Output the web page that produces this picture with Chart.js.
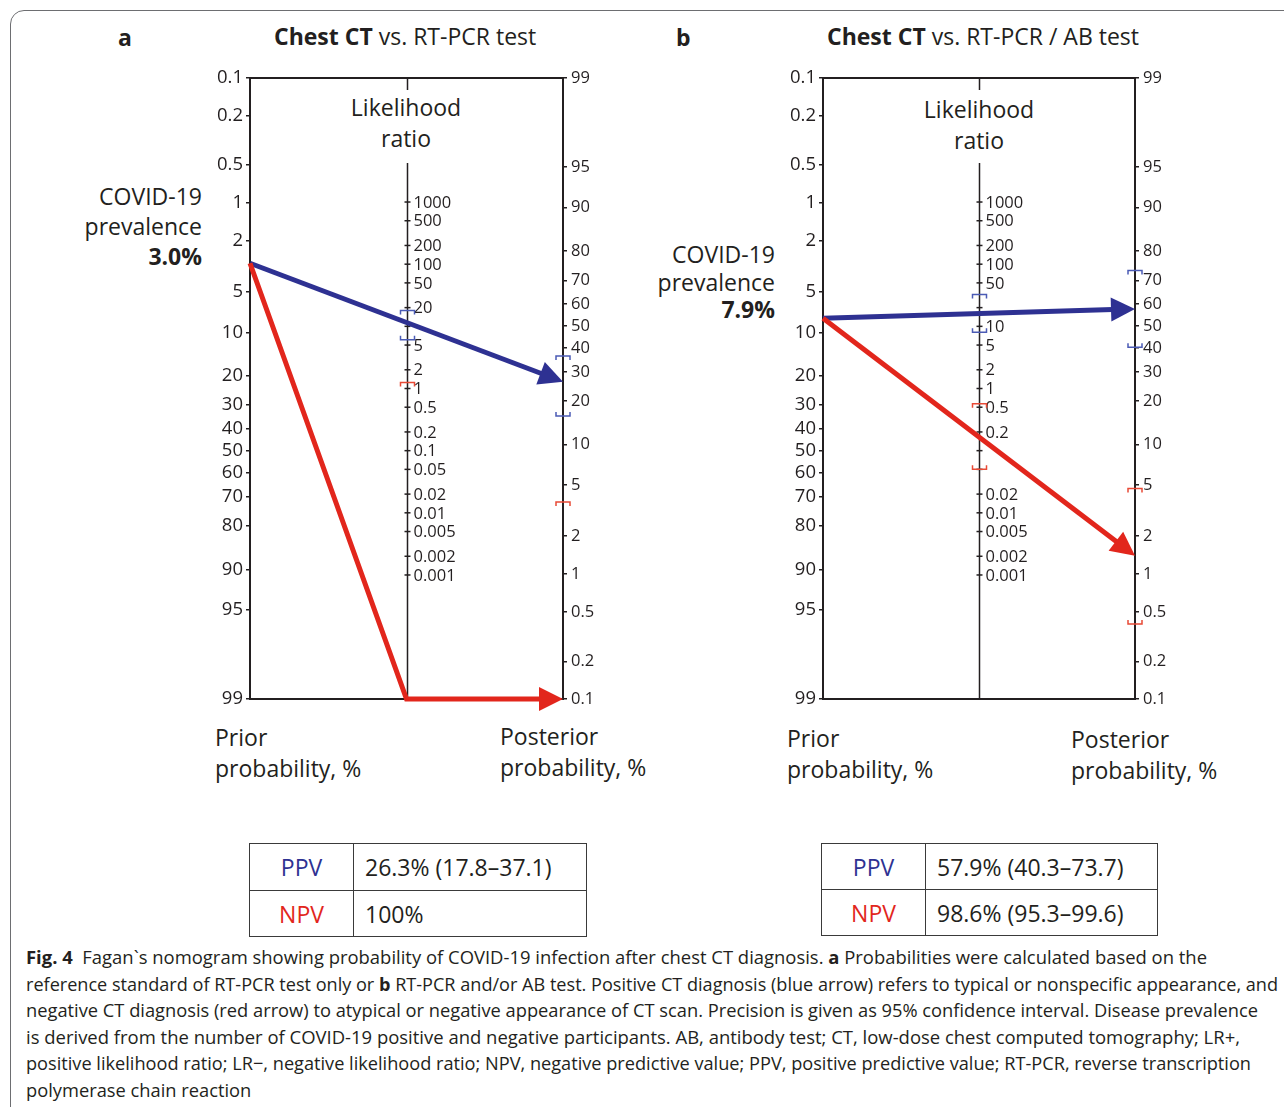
<!DOCTYPE html>
<html lang="en">
<head>
<meta charset="UTF-8">
<title>Fagan nomogram - chest CT</title>
<script src="https://cdn.jsdelivr.net/npm/chart.js"></script>
<style>
    body { margin: 0; background: #fff; color: #231f20; font-family: "Open Sans", sans-serif; }
    #page { position: relative; width: 1284px; height: 1107px; overflow: hidden; }
    .frame { position: absolute; left: 10px; top: 10px; width: 1320px; height: 1140px; border: 1px solid #6d6e71; border-radius: 14px; }
    .t { position: absolute; white-space: nowrap; }
    canvas { position: absolute; }
    .lr { font-size: 23px; line-height: 31px; text-align: center; width: 200px; }
    .prev { font-size: 23px; text-align: right; }
    .axt { font-size: 23px; line-height: 31px; }
    .head { font-size: 23px; line-height: 30px; }
    .pv { position: absolute; border-collapse: collapse; font-size: 23px; }
    .pv td { border: 1.5px solid #3a3a3a; padding: 0; }
    .pv td.k { width: 103px; text-align: center; }
    .pv td.v { padding-left: 11px; }
    .cap { position: absolute; left: 26px; font-size: 18.5px; line-height: 26.4px; white-space: nowrap; transform-origin: 0 0; }
</style>
</head>
<body>
<div id="page">
    <div class="frame"></div>

    <div class="t head" style="left:118px; top:22px;"><b>a</b></div>
    <div class="t head" style="left:274px; top:21px;"><b>Chest CT</b> vs. RT-PCR test</div>
    <div class="t head" style="left:676px; top:22px;"><b>b</b></div>
    <div class="t head" style="left:827px; top:21px;"><b>Chest CT</b> vs. RT-PCR / AB test</div>

    <div class="t lr" style="left:306px; top:92px;">Likelihood<br>ratio</div>
    <div class="t lr" style="left:879px; top:94px;">Likelihood<br>ratio</div>

    <div class="t prev" style="right:1082px; top:181px; line-height:30px;">COVID-19<br>prevalence<br><b>3.0%</b></div>
    <div class="t prev" style="right:509px; top:241px; line-height:27.5px;">COVID-19<br>prevalence<br><b>7.9%</b></div>

    <div class="t axt" style="left:215px; top:722px;">Prior<br>probability, %</div>
    <div class="t axt" style="left:500px; top:721px;">Posterior<br>probability, %</div>
    <div class="t axt" style="left:787px; top:723px;">Prior<br>probability, %</div>
    <div class="t axt" style="left:1071px; top:724px;">Posterior<br>probability, %</div>

    <canvas id="nomoA" width="473" height="653" style="left:150px; top:61px;"></canvas>
    <canvas id="nomoB" width="472" height="653" style="left:723px; top:61px;"></canvas>

    <table class="pv" id="tabA" style="left:249px; top:843px; width:338px;">
        <tr style="height:47px;"><td class="k" style="color:#2e3192;">PPV</td><td class="v"></td></tr>
        <tr style="height:46px;"><td class="k" style="color:#e2261c;">NPV</td><td class="v"></td></tr>
    </table>
    <table class="pv" id="tabB" style="left:821px; top:843px; width:337px;">
        <tr style="height:46px;"><td class="k" style="color:#2e3192;">PPV</td><td class="v"></td></tr>
        <tr style="height:46px;"><td class="k" style="color:#e2261c;">NPV</td><td class="v"></td></tr>
    </table>

    <div class="cap" data-w="1181" style="top:944px;"><b>Fig. 4</b>&nbsp; Fagan`s nomogram showing probability of COVID-19 infection after chest CT diagnosis. <b>a</b> Probabilities were calculated based on the</div>
    <div class="cap" data-w="1252" style="top:970.5px;">reference standard of RT-PCR test only or <b>b</b> RT-PCR and/or AB test. Positive CT diagnosis (blue arrow) refers to typical or nonspecific appearance, and</div>
    <div class="cap" data-w="1232" style="top:997px;">negative CT diagnosis (red arrow) to atypical or negative appearance of CT scan. Precision is given as 95% confidence interval. Disease prevalence</div>
    <div class="cap" data-w="1214" style="top:1023.5px;">is derived from the number of COVID-19 positive and negative participants. AB, antibody test; CT, low-dose chest computed tomography; LR+,</div>
    <div class="cap" data-w="1225" style="top:1050px;">positive likelihood ratio; LR−, negative likelihood ratio; NPV, negative predictive value; PPV, positive predictive value; RT-PCR, reverse transcription</div>
    <div class="cap" style="top:1076.5px;">polymerase chain reaction</div>
</div>

<script>
    // axis tick values (%), as printed on the nomogram
    const priorTicks = [0.1, 0.2, 0.5, 1, 2, 5, 10, 20, 30, 40, 50, 60, 70, 80, 90, 95, 99];
    const postTicks = [99, 95, 90, 80, 70, 60, 50, 40, 30, 20, 10, 5, 2, 1, 0.5, 0.2, 0.1];
    const lrTicks = [1000, 500, 200, 100, 50, 20, 10, 5, 2, 1, 0.5, 0.2, 0.1, 0.05, 0.02, 0.01, 0.005, 0.002, 0.001];
    // LR labels that are covered by the arrows in the figure
    const lrHidden = [[10], [20, 0.1, 0.05]];

    // panel a = RT-PCR only, panel b = RT-PCR / AB
    const prevalence = [3.0, 7.9];
    const ppv = [26.3, 57.9];
    const npv = [100, 98.6];
    const ppvText = ["26.3% (17.8–37.1)", "57.9% (40.3–73.7)"];
    const npvText = ["100%", "98.6% (95.3–99.6)"];
    // confidence brackets [lower, upper]
    const lrPosCI = [[6.1, 18], [8.0, 32.5]];
    const lrNegCI = [[null, 1.25], [0.05, 0.57]];
    const ppvCI = [[15.9, 36.5], [40.3, 73.7]];
    const negPostCI = [[null, 3.7], [0.4, 4.7]];

    const BLUE = '#2e3192';
    const RED = '#e2261c';
    const BLUE_CI = '#4b5bb5';
    const RED_CI = '#e84a36';
    const INK = '#231f20';

    const logit = p => Math.log(p / (100 - p));
    const U_TOP = logit(priorTicks[0]);
    const U_BOT = logit(priorTicks[priorTicks.length - 1]);
    const uL = p => logit(p);
    const uR = p => U_TOP + U_BOT - logit(p);
    const uM = lr => (U_TOP + U_BOT - Math.log(lr)) / 2;

    function posPath(k) {
        return [{x: 0, y: uL(prevalence[k])}, {x: 1, y: uR(ppv[k])}];
    }
    function negPath(k) {
        let post = 100 - npv[k];
        if (post > 0) return [{x: 0, y: uL(prevalence[k])}, {x: 1, y: uR(post)}];
        // LR- = 0: the line runs off the bottom of the LR scale
        return [{x: 0, y: uL(prevalence[k])}, {x: 0.5, y: U_BOT}, {x: 1, y: U_BOT}];
    }

    function bracket(ctx, x, y, dir, color) {
        ctx.save();
        ctx.strokeStyle = color;
        ctx.lineWidth = 1.5;
        ctx.beginPath();
        ctx.moveTo(x - 7, y + dir * 4);
        ctx.lineTo(x - 7, y);
        ctx.lineTo(x + 7, y);
        ctx.lineTo(x + 7, y + dir * 4);
        ctx.stroke();
        ctx.restore();
    }

    const nomogram = {
        id: 'nomogram',
        beforeDatasetsDraw(chart, args, opts) {
            let k = opts.k;
            let ctx = chart.ctx;
            let area = chart.chartArea;
            let ys = chart.scales.yL;
            let xm = Math.round(chart.scales.x.getPixelForValue(0.5)) + 0.5;

            // middle LR axis
            ctx.save();
            ctx.strokeStyle = INK;
            ctx.lineWidth = 1.5;
            ctx.beginPath();
            ctx.moveTo(xm, area.top);
            ctx.lineTo(xm, area.top + 12);
            ctx.moveTo(xm, area.top + 85);
            ctx.lineTo(xm, area.bottom);
            ctx.stroke();
            ctx.font = '16.5px "Open Sans"';
            ctx.fillStyle = INK;
            ctx.textBaseline = 'middle';
            lrTicks.forEach(v => {
                let y = ys.getPixelForValue(uM(v));
                ctx.beginPath();
                ctx.moveTo(xm - 3, y);
                ctx.lineTo(xm + 3, y);
                ctx.stroke();
                if (!lrHidden[k].includes(v)) ctx.fillText(String(v), xm + 6, y + 1);
            });
            ctx.restore();

            // confidence brackets
            let xr = area.right;
            let sets = [
                [lrPosCI[k], uM, xm, BLUE_CI],
                [lrNegCI[k], uM, xm, RED_CI],
                [ppvCI[k], uR, xr, BLUE_CI],
                [negPostCI[k], uR, xr, RED_CI]
            ];
            sets.forEach(([ci, f, x, c]) => {
                if (ci[0] != null) bracket(ctx, x, ys.getPixelForValue(f(ci[0])), -1, c);
                if (ci[1] != null) bracket(ctx, x, ys.getPixelForValue(f(ci[1])), 1, c);
            });

            // pull the line ends back so the arrow heads form the tips
            chart.data.datasets.forEach((ds, i) => {
                let pts = chart.getDatasetMeta(i).data;
                let a = pts[pts.length - 2], b = pts[pts.length - 1];
                if (!b.$tip) b.$tip = {x: b.x, y: b.y};
                let ang = Math.atan2(b.$tip.y - a.y, b.$tip.x - a.x);
                b.x = b.$tip.x - 14 * Math.cos(ang);
                b.y = b.$tip.y - 14 * Math.sin(ang);
            });
        },
        afterDatasetsDraw(chart) {
            let ctx = chart.ctx;
            chart.data.datasets.forEach((ds, i) => {
                let pts = chart.getDatasetMeta(i).data;
                let a = pts[pts.length - 2], b = pts[pts.length - 1];
                let tip = b.$tip || b;
                let ang = Math.atan2(tip.y - a.y, tip.x - a.x);
                let L = 24, W = 12;
                let bx = tip.x - L * Math.cos(ang), by = tip.y - L * Math.sin(ang);
                ctx.save();
                ctx.fillStyle = ds.borderColor;
                ctx.beginPath();
                ctx.moveTo(tip.x, tip.y);
                ctx.lineTo(bx + W * Math.sin(ang), by - W * Math.cos(ang));
                ctx.lineTo(bx - W * Math.sin(ang), by + W * Math.cos(ang));
                ctx.closePath();
                ctx.fill();
                ctx.restore();
            });
        }
    };

    function hAxis(pos) {
        return {
            type: 'linear', axis: 'x', position: pos, min: 0, max: 1,
            ticks: {display: false},
            grid: {display: false, drawTicks: false},
            border: {display: true, color: INK, width: 2},
            afterFit: s => { s.height = 0; }
        };
    }

    function vAxis(pos, ticks, toU, fontSize, w) {
        return {
            type: 'linear', axis: 'y', position: pos, min: U_TOP, max: U_BOT, reverse: true,
            afterBuildTicks: s => { s.ticks = ticks.map(p => ({value: toU(p)})); },
            afterFit: s => { s.width = w; },
            ticks: {
                autoSkip: false,
                padding: pos == 'left' ? 3 : 4,
                color: INK,
                font: {family: 'Open Sans', size: fontSize},
                callback: (v, i) => String(ticks[i])
            },
            grid: {drawOnChartArea: false, tickLength: 4, color: INK, lineWidth: 1.5},
            border: {display: true, color: INK, width: 2}
        };
    }

    function showNomogram(id, k) {
        new Chart(document.getElementById(id), {
            type: 'scatter',
            data: {
                datasets: [
                    {data: negPath(k), borderColor: RED, borderWidth: 5, showLine: true, pointRadius: 0, clip: false, yAxisID: 'yL'},
                    {data: posPath(k), borderColor: BLUE, borderWidth: 5, showLine: true, pointRadius: 0, clip: false, yAxisID: 'yL'}
                ]
            },
            options: {
                responsive: false,
                animation: false,
                events: [],
                layout: {padding: {top: 17, bottom: 15, left: 0, right: 0}},
                plugins: {legend: {display: false}, tooltip: {enabled: false}, nomogram: {k: k}},
                scales: {
                    x: hAxis('bottom'),
                    xTop: hAxis('top'),
                    yL: vAxis('left', priorTicks, uL, 18.5, 100),
                    yR: vAxis('right', postTicks, uR, 16.5, 60)
                }
            },
            plugins: [nomogram]
        });
    }

    // tables
    [['tabA', 0], ['tabB', 1]].forEach(([id, k]) => {
        let cells = document.querySelectorAll('#' + id + ' td.v');
        cells[0].textContent = ppvText[k];
        cells[1].textContent = npvText[k];
    });

    document.fonts.ready.then(() => {
        showNomogram('nomoA', 0);
        showNomogram('nomoB', 1);

        // squeeze caption lines to the measured widths of the figure
        let lines = document.querySelectorAll('.cap');
        let scales = [];
        lines.forEach(el => {
            if (!el.dataset.w) return;
            let s = el.dataset.w / el.getBoundingClientRect().width;
            scales.push(s);
            el.style.transform = 'scaleX(' + s + ')';
        });
        let mean = scales.reduce((a, b) => a + b, 0) / scales.length;
        lines.forEach(el => { if (!el.dataset.w) el.style.transform = 'scaleX(' + mean + ')'; });
    });
</script>
</body>
</html>
